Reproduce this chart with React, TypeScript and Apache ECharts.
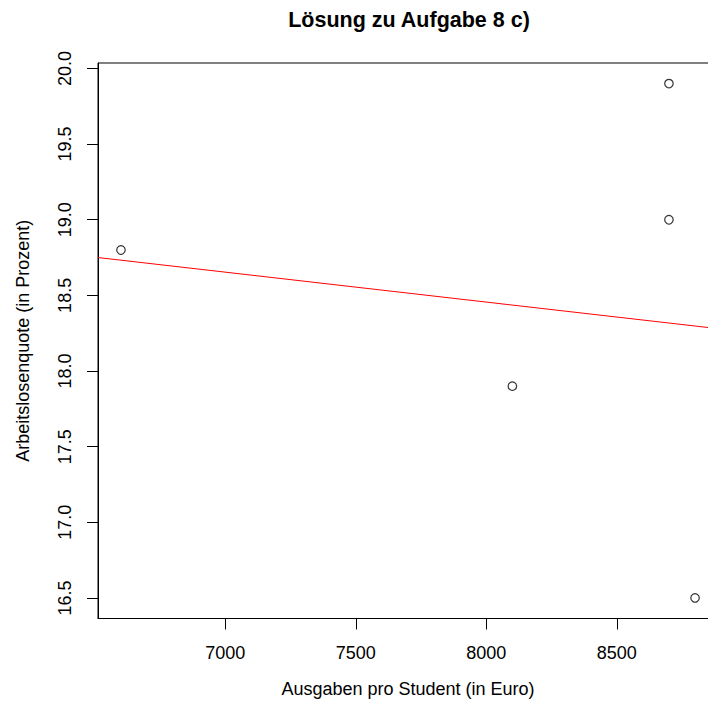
import React, { useEffect, useRef } from "react";
import * as echarts from "echarts";

const titleText = "Lösung zu Aufgabe 8 c)";
const xName = "Ausgaben pro Student (in Euro)";
const yName = "Arbeitslosenquote (in Prozent)";

const ausgaben = [6600, 8100, 8700, 8700, 8800];
const quote = [18.8, 17.9, 19.9, 19.0, 16.5];

const xTicks = [7000, 7500, 8000, 8500];
const yTicks = [16.5, 17.0, 17.5, 18.0, 18.5, 19.0, 19.5, 20.0];

const FONT = "'Liberation Sans', Arial, Helvetica, sans-serif";

function rRange(v: number[]): [number, number] {
  const lo = Math.min(...v);
  const hi = Math.max(...v);
  const pad = (hi - lo) * 0.04;
  return [lo - pad, hi + pad];
}

function linFit(x: number[], y: number[]) {
  const n = x.length;
  const mx = x.reduce((a, b) => a + b, 0) / n;
  const my = y.reduce((a, b) => a + b, 0) / n;
  let sxy = 0;
  let sxx = 0;
  for (let i = 0; i < n; i++) {
    sxy += (x[i] - mx) * (y[i] - my);
    sxx += (x[i] - mx) * (x[i] - mx);
  }
  const b = sxy / sxx;
  const a = my - b * mx;
  return { a, b };
}

export default function App() {
  const ref = useRef<HTMLDivElement>(null);
  useEffect(() => {
    if (!ref.current) return;
    const chart = echarts.init(ref.current, null, { renderer: "svg" });
    const [xMin, xMax] = rRange(ausgaben);
    const [yMin, yMax] = rRange(quote);
    const fit = linFit(ausgaben, quote);
    const lineData = [
      [xMin, fit.a + fit.b * xMin],
      [xMax, fit.a + fit.b * xMax],
    ];
    chart.setOption({
      animation: false,
      backgroundColor: "#ffffff",
      textStyle: { fontFamily: FONT, color: "#000" },
      graphic: [
        {
          type: "text",
          x: 409,
          y: 20,
          style: {
            text: titleText,
            fontFamily: FONT,
            fontSize: 21.5,
            fontWeight: "bold",
            fill: "#000",
            textAlign: "center",
            textVerticalAlign: "middle",
          },
        },
      ],
      grid: {
        left: 98,
        top: 63,
        width: 620,
        height: 555.5,
        show: true,
        borderColor: "#000",
        borderWidth: 1,
        backgroundColor: "transparent",
        outerBoundsMode: "none",
        containLabel: false,
      },
      xAxis: {
        type: "value",
        min: xMin,
        max: xMax,
        name: xName,
        nameLocation: "middle",
        nameGap: 61,
        nameTextStyle: { fontFamily: FONT, fontSize: 18, color: "#000" },
        axisLine: { show: true, onZero: false, lineStyle: { color: "#000", width: 1 } },
        axisTick: {
          show: true,
          length: 11,
          customValues: xTicks,
          lineStyle: { color: "#000", width: 1 },
        },
        axisLabel: {
          customValues: xTicks,
          margin: 25,
          fontFamily: FONT,
          fontSize: 18,
          color: "#000",
          formatter: (v: number) => String(Math.round(v)),
        },
        splitLine: { show: false },
      },
      yAxis: {
        type: "value",
        min: yMin,
        max: yMax,
        name: yName,
        nameLocation: "middle",
        nameGap: 66,
        nameTextStyle: { fontFamily: FONT, fontSize: 18, color: "#000" },
        axisLine: { show: true, onZero: false, lineStyle: { color: "#000", width: 1 } },
        axisTick: {
          show: true,
          length: 11,
          customValues: yTicks,
          lineStyle: { color: "#000", width: 1 },
        },
        axisLabel: {
          customValues: yTicks,
          rotate: 90,
          margin: 24,
          fontFamily: FONT,
          fontSize: 18,
          color: "#000",
          formatter: (v: number) => v.toFixed(1),
        },
        splitLine: { show: false },
      },
      series: [
        {
          type: "line",
          data: lineData,
          showSymbol: false,
          symbol: "none",
          lineStyle: { color: "#ff0000", width: 1 },
          silent: true,
          z: 2,
        },
        {
          type: "scatter",
          data: ausgaben.map((x, i) => [x, quote[i]]),
          symbol: "circle",
          symbolSize: 8.5,
          itemStyle: { color: "rgba(0,0,0,0)", borderColor: "#000", borderWidth: 1.2 },
          z: 3,
        },
      ],
    });
    return () => chart.dispose();
  }, []);
  return (
    <div
      ref={ref}
      style={{ position: "fixed", left: 0, top: 0, width: 724, height: 707, background: "#fff" }}
    />
  );
}
